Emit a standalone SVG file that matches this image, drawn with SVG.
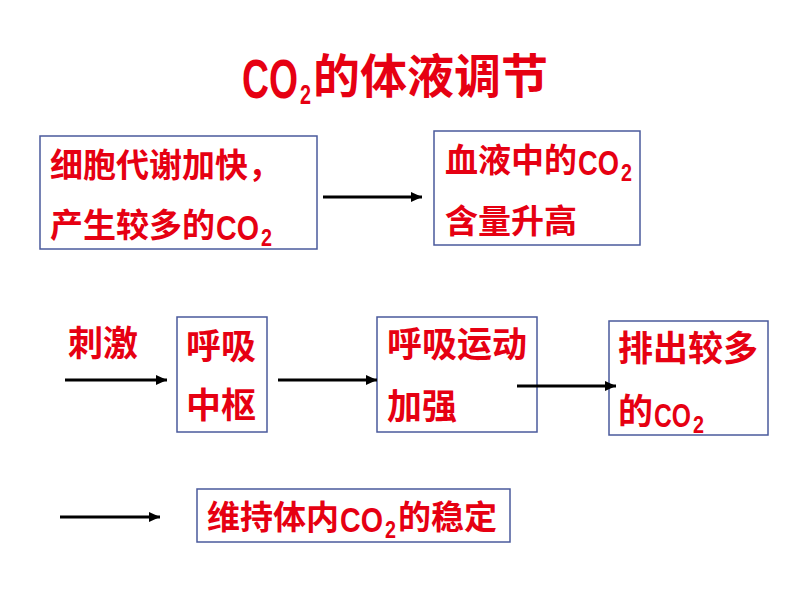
<svg xmlns="http://www.w3.org/2000/svg" width="794" height="596" viewBox="0 0 794 596">
<style>
text{font-family:"Noto Sans CJK SC","Microsoft YaHei",sans-serif;fill:#e60012;font-weight:bold;}
.t{font-size:47px;}
.b1{font-size:33px;}
.b2{font-size:35px;}
.co{font-family:"Liberation Sans",Arial,sans-serif;}
.box{fill:none;stroke:#4a5a9c;stroke-width:1.5;}
.arr{stroke:#000;stroke-width:3;fill:none;}
</style>
<defs>
<marker id="ah" markerUnits="userSpaceOnUse" markerWidth="11" markerHeight="10" refX="11" refY="5" orient="auto">
<path d="M0,0 L11,5 L0,10 z" fill="#000"/>
</marker>
</defs>
<rect width="794" height="596" fill="#fff"/>
<g id="title">
<text class="co" font-size="55" transform="translate(242,98) scale(0.679,1)">CO</text>
<text class="co" font-size="28" transform="translate(300,104) scale(0.706,1)">2</text>
<text class="t" x="313" y="93">的体液调节</text>
</g>
<g id="n1"><rect class="box" x="40" y="136" width="277" height="113"/>
<text class="b1" x="50" y="177">细胞代谢加快，</text>
<text class="b1" x="50" y="237">产生较多的</text>
<text class="co" font-size="35" transform="translate(216,240) scale(0.819,1)">CO</text>
<text class="co" font-size="24" transform="translate(261,246) scale(0.824,1)">2</text>
</g>
<g id="n2"><rect class="box" x="434" y="131" width="206" height="114"/>
<text class="b1" x="445" y="172">血液中的</text>
<text class="co" font-size="35" transform="translate(578,175) scale(0.781,1)">CO</text>
<text class="co" font-size="24" transform="translate(621,181) scale(0.824,1)">2</text>
<text class="b1" x="445" y="233">含量升高</text>
</g>
<g id="n3"><text class="b2" x="68" y="356">刺激</text></g>
<g id="n4"><rect class="box" x="177" y="317" width="90" height="115"/>
<text class="b2" x="186" y="359">呼吸</text>
<text class="b2" x="186" y="418">中枢</text>
</g>
<g id="n5"><rect class="box" x="377" y="317" width="160" height="115"/>
<text class="b2" x="387" y="357">呼吸运动</text>
<text class="b2" x="387" y="419">加强</text>
</g>
<g id="n6"><rect class="box" x="609" y="321" width="159" height="114"/>
<text class="b2" x="618" y="361">排出较多</text>
<text class="b2" x="618" y="424">的</text>
<text class="co" font-size="33" transform="translate(654,427) scale(0.747,1)">CO</text>
<text class="co" font-size="23" transform="translate(693,433) scale(0.86,1)">2</text>
</g>
<g id="n7"><rect class="box" x="197" y="489" width="313" height="53"/>
<text class="b1" x="207" y="529">维持体内</text>
<text class="co" font-size="35" transform="translate(340,532) scale(0.819,1)">CO</text>
<text class="co" font-size="24" transform="translate(385,538) scale(0.824,1)">2</text>
<text class="b1" x="398" y="529">的稳定</text>
</g>
<g id="connectors">
<line class="arr" x1="323" y1="197" x2="422" y2="197" marker-end="url(#ah)"/>
<line class="arr" x1="65" y1="380" x2="167" y2="380" marker-end="url(#ah)"/>
<line class="arr" x1="278" y1="380" x2="377" y2="380" marker-end="url(#ah)"/>
<line class="arr" x1="517" y1="386" x2="616" y2="386" marker-end="url(#ah)"/>
<line class="arr" x1="60" y1="517" x2="160" y2="517" marker-end="url(#ah)"/>
</g>
</svg>
